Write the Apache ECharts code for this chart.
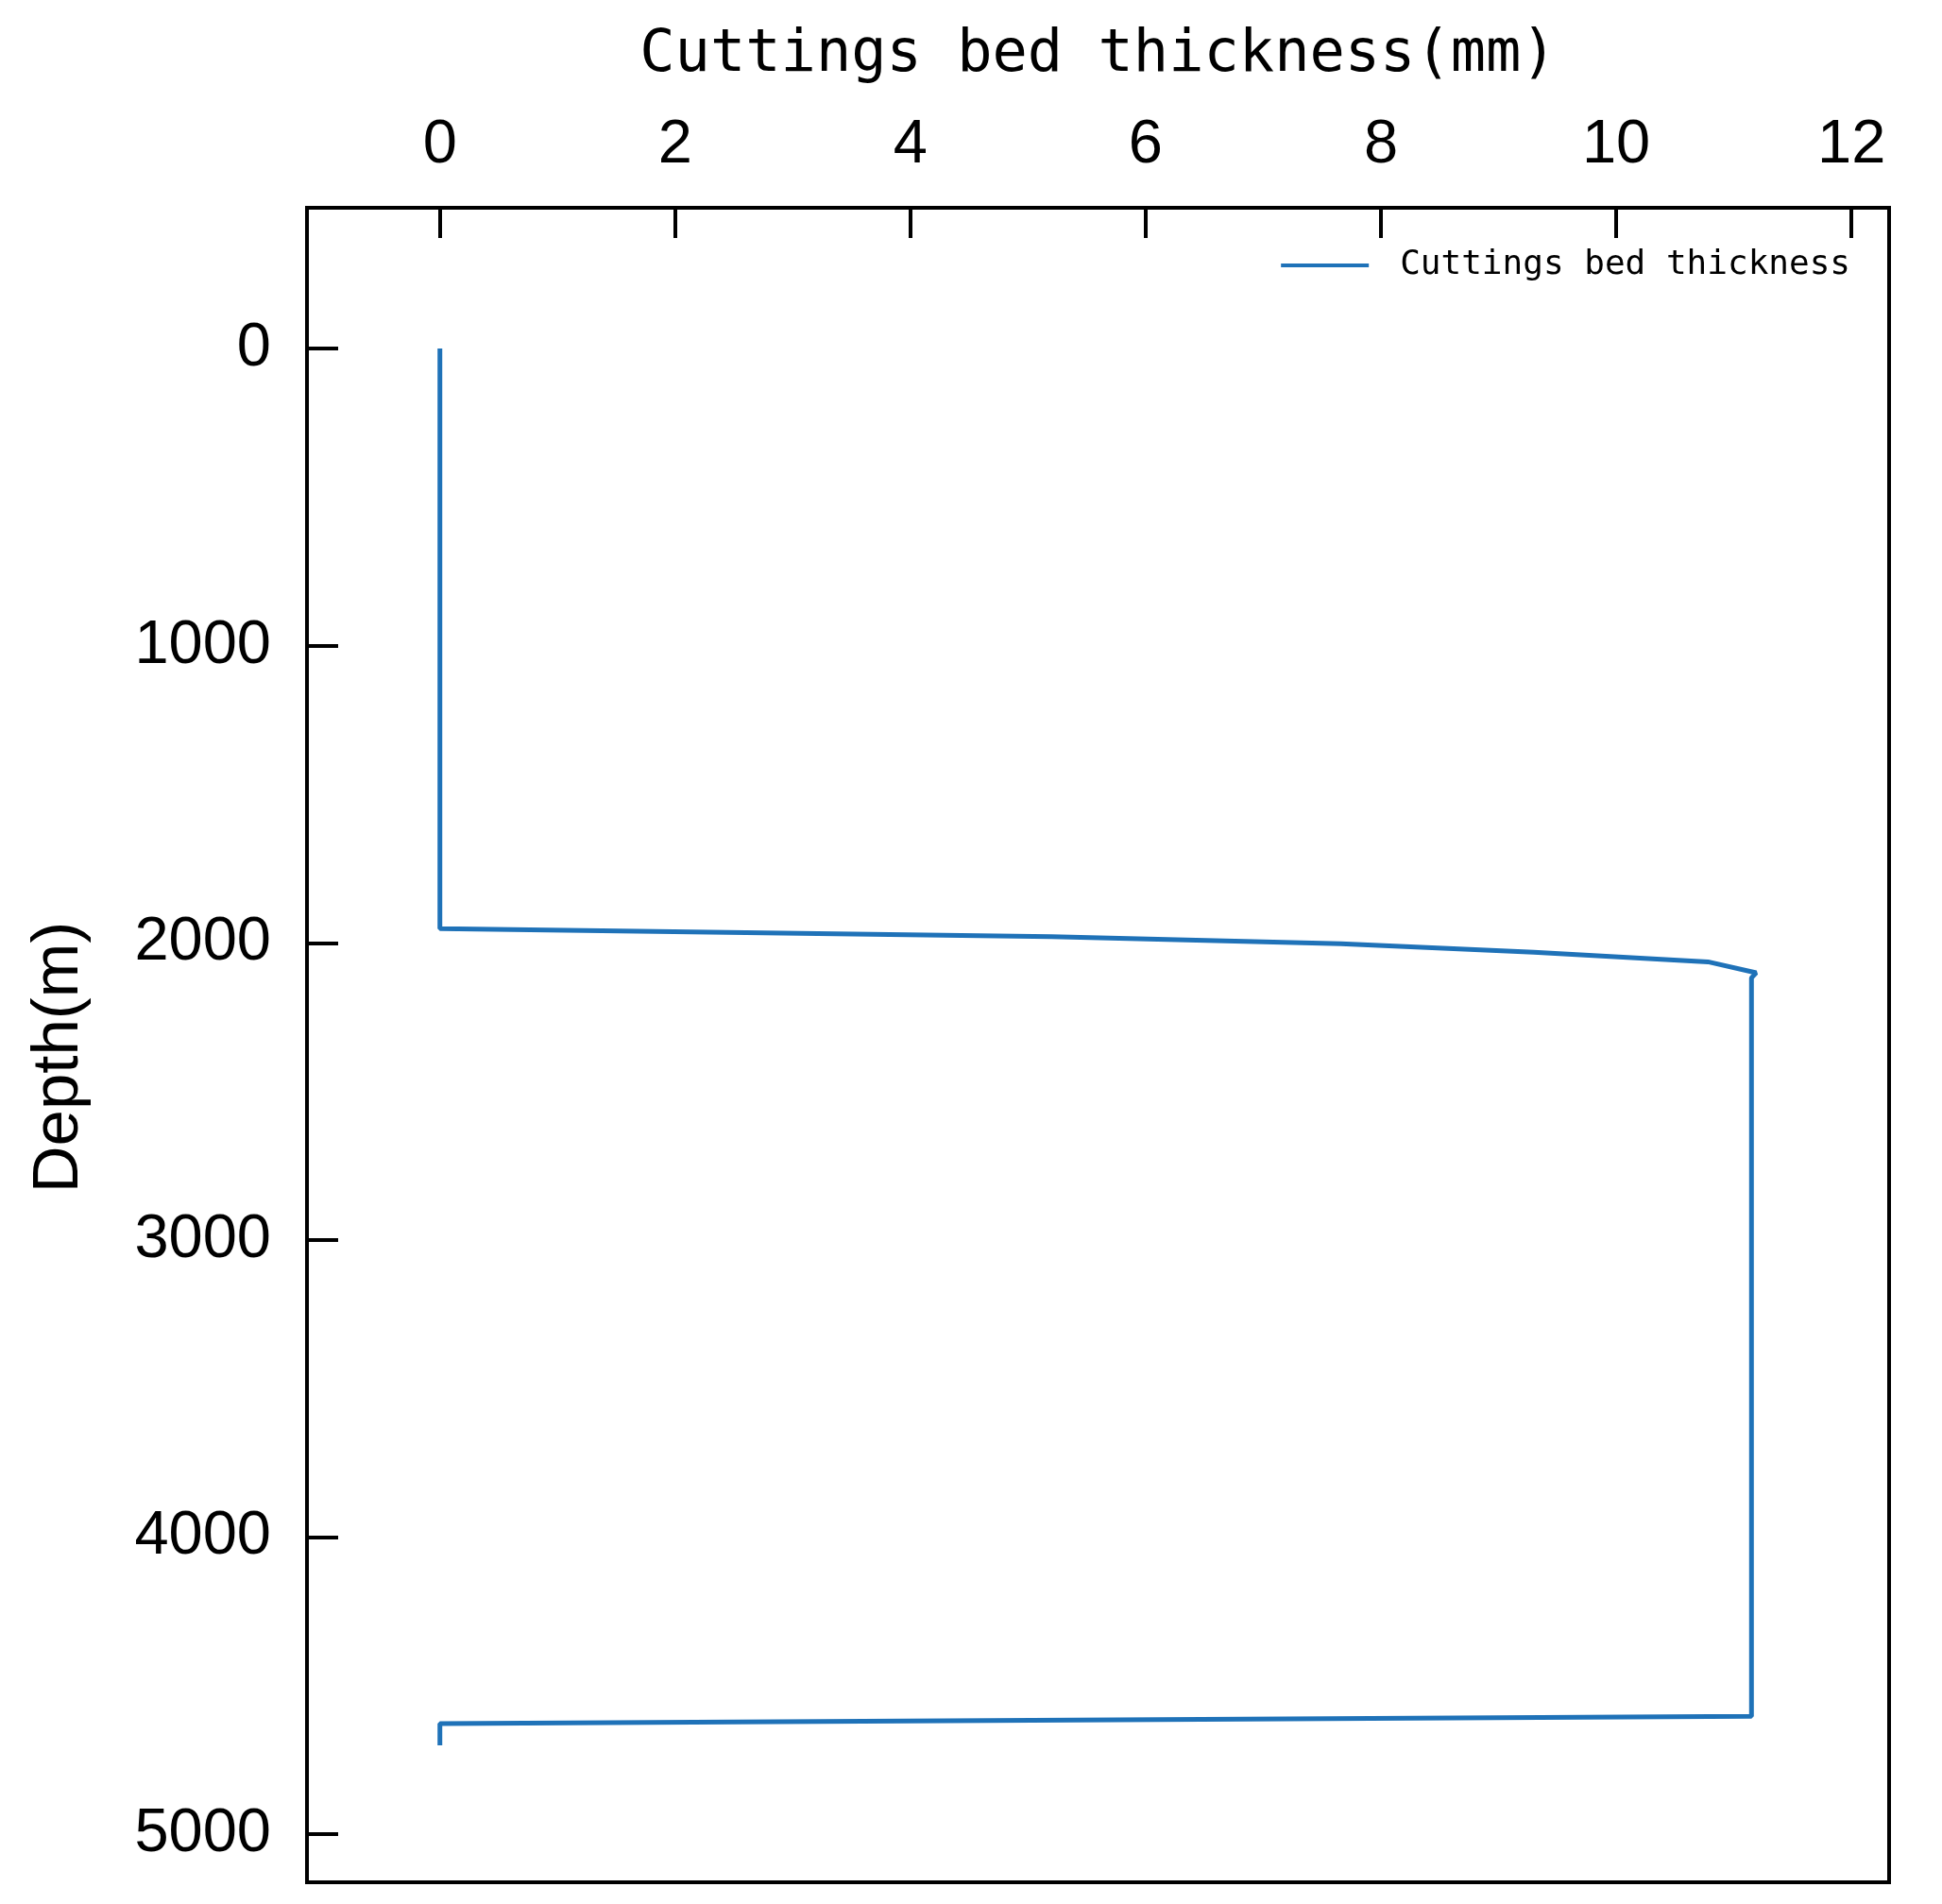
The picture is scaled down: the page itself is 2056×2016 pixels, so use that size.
<!DOCTYPE html>
<html>
<head>
<meta charset="utf-8">
<script src="https://cdn.jsdelivr.net/npm/echarts@6/dist/echarts.min.js"></script>
<style>
html,body{margin:0;padding:0;background:#fff;}
#chart{width:2056px;height:2016px;}
</style>
</head>
<body>
<div id="chart"></div>
<script>
// Data (thickness in mm, depth in m)
const thickness = [0, 0, 5.2, 7.66, 9.3, 10.78, 11.19, 11.15, 11.15, 0, 0];
const depth     = [0, 1952, 1979, 2003, 2032, 2064, 2101, 2118, 4603, 4628, 4701];
const xTicks = [0, 2, 4, 6, 8, 10, 12];
const yTicks = [0, 1000, 2000, 3000, 4000, 5000];
const seriesName = 'Cuttings bed thickness';
const xTitle = 'Cuttings bed thickness(mm)';
const yTitle = 'Depth(m)';

const points = thickness.map((t, i) => [t, depth[i]]);

const chart = echarts.init(document.getElementById('chart'));
chart.setOption({
  animation: false,
  backgroundColor: '#fff',
  grid: {
    left: 325, right: 56, top: 220, bottom: 23,
    show: true, borderColor: '#000', borderWidth: 4, backgroundColor: 'transparent'
  },
  legend: {
    data: [seriesName],
    right: 92, top: 258,
    icon: 'rect', itemWidth: 93, itemHeight: 4,
    textStyle: { fontFamily: 'DejaVu Sans Mono', fontSize: 36, color: '#000', padding: [0, 0, 0, 28] }
  },
  xAxis: {
    type: 'value', position: 'top', min: -1.13, max: 12.32,
    name: xTitle, nameLocation: 'middle', nameGap: 130,
    nameTextStyle: { fontFamily: 'DejaVu Sans Mono', fontSize: 62, color: '#000' },
    axisLine: { show: false, onZero: false },
    splitLine: { show: false },
    axisTick: { show: true, inside: true, length: 32, customValues: xTicks, lineStyle: { color: '#000', width: 4 } },
    axisLabel: { customValues: xTicks, margin: 33, fontFamily: 'Liberation Sans', fontSize: 65, color: '#000',
                 formatter: v => String(v) }
  },
  yAxis: {
    type: 'value', inverse: true, min: -474, max: 5162,
    name: yTitle, nameLocation: 'middle', nameGap: 228, nameRotate: 90,
    nameTextStyle: { fontFamily: 'Liberation Sans', fontSize: 69, color: '#000', padding: [0, 26, 0, 0] },
    axisLine: { show: false, onZero: false },
    splitLine: { show: false },
    axisTick: { show: true, inside: true, length: 33, customValues: yTicks, lineStyle: { color: '#000', width: 4 } },
    axisLabel: { customValues: yTicks, margin: 38, fontFamily: 'Liberation Sans', fontSize: 65, color: '#000',
                 formatter: v => String(v) }
  },
  series: [{
    name: seriesName, type: 'line', data: points,
    showSymbol: false, symbol: 'none',
    lineStyle: { color: '#1f72b8', width: 5 },
    itemStyle: { color: '#1f72b8' }
  }]
});
</script>
</body>
</html>
